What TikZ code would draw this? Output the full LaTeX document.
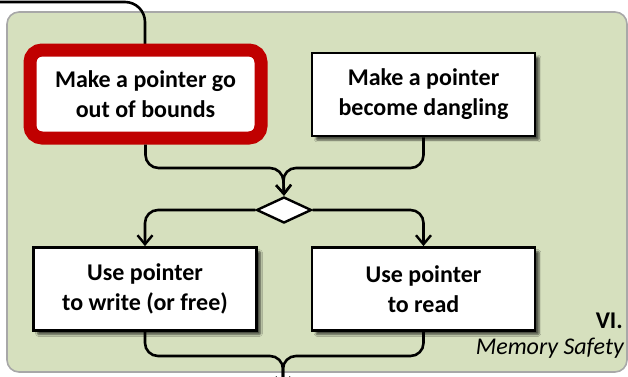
\documentclass[tikz,border=0pt]{standalone}
\usepackage{fontspec}
\setmainfont{Carlito}
\usetikzlibrary{arrows.meta,shapes.geometric,shadows.blur}

\definecolor{panelgreen}{HTML}{D6E0BE}
\definecolor{panelline}{HTML}{A8A8A8}
\definecolor{alertred}{HTML}{C00000}

\tikzset{
  stepbox/.style={draw=black, line width=2.8pt, fill=white, align=center,
    font=\fontsize{24}{30}\selectfont\bfseries, inner sep=0pt,
    minimum width=223pt, minimum height=83pt,
    blur shadow={shadow xshift=4pt, shadow yshift=-4pt, shadow blur steps=5,
      shadow blur extra rounding=1pt, shadow opacity=65}},
  hotbox/.style={draw=alertred, line width=13pt, fill=white, align=center,
    rounded corners=12pt, font=\fontsize{24}{30}\selectfont\bfseries,
    inner sep=0pt, minimum width=231pt, minimum height=88pt},
  choice/.style={diamond, draw=black, line width=2.4pt, fill=white,
    inner sep=0pt, minimum width=55pt, minimum height=26pt},
  flow/.style={draw=black, line width=2.6pt, rounded corners=13pt},
  flowarrow/.style={flow, -{Straight Barb[length=9pt,width=15pt,line width=2.4pt]}},
}

\begin{document}
\begin{tikzpicture}[x=1pt,y=-1pt]
  \useasboundingbox (0,0) rectangle (628,376);

  % panel background
  \filldraw[fill=panelgreen, draw=panelline, line width=1.6pt, rounded corners=12pt]
    (7,12) rectangle (627,372);

  % free ends of the flow
  \coordinate (entry) at (-10,2);
  \coordinate (exit) at (283,388);
  \coordinate (joinA) at (283,168);
  \coordinate (joinB) at (283,356);

  % incoming line (drawn before the boxes so they cover it)
  \draw[flow, rounded corners=20pt] (entry) -- (145,2) -- (145,100);

  % boxes
  \node[hotbox] (oob) at (145.5,94) {Make a pointer go\\out of bounds};
  \node[stepbox] (dang) at (423.5,94.5) {Make a pointer\\become dangling};
  \node[choice] (dia) at (284,210) {};
  \node[stepbox] (wr) at (145,289) {Use pointer\\to write (or free)};
  \node[stepbox] (rd) at (423.5,289) {Use pointer\\to read};

  % labels
  \node[anchor=south east, inner sep=0pt, font=\fontsize{24}{24}\selectfont\bfseries]
    (sec) at (623,329) {VI.};
  \node[anchor=south east, inner sep=0pt, font=\fontsize{24}{24}\selectfont\itshape]
    (title) at (624,359) {Memory Safety};

  % merge into the decision
  \draw[flowarrow] (oob.south) -- (oob.south |- joinA) -- (joinA) -- (dia.north);
  \draw[flowarrow] (dang.south) -- (dang.south |- joinA) -- (joinA) -- (dia.north);

  % branches
  \draw[flowarrow] (dia.west) -- (dia.west -| wr.north) -- (wr.north);
  \draw[flowarrow] (dia.east) -- (dia.east -| rd.north) -- (rd.north);

  % merge out of the panel
  \draw[flowarrow] (wr.south) -- (wr.south |- joinB) -- (joinB) -- (exit);
  \draw[flowarrow] (rd.south) -- (rd.south |- joinB) -- (joinB) -- (exit);
\end{tikzpicture}
\end{document}
